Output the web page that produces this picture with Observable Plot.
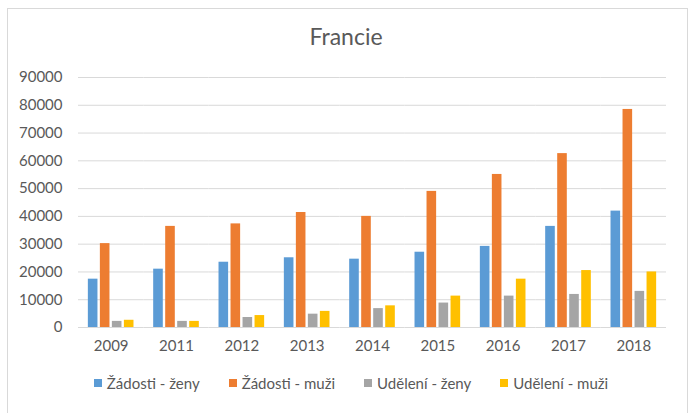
<!DOCTYPE html>
<html><head><meta charset="utf-8">
<script src="https://cdn.jsdelivr.net/npm/d3@7"></script>
<script src="https://cdn.jsdelivr.net/npm/@observablehq/plot@0.6"></script>
<style>
html,body{margin:0;padding:0;background:#fff}
body{width:690px;height:413px;overflow:hidden;position:relative;font-family:Lato,"Open Sans",sans-serif;color:#595959}
#frame{position:absolute;left:7px;top:8px;width:681px;height:430px;border:1px solid #d9d9d9;box-sizing:border-box}
#title{position:absolute;left:0;top:25px;width:692px;text-align:center;font-size:23px;line-height:1;color:#595959}
#chart{position:absolute;left:0;top:55px}
#legend{position:absolute;left:0;top:374px;width:702px;display:flex;justify-content:center;gap:29px;font-size:15px;line-height:18px;color:#595959}
.item{display:flex;align-items:center}
.sw{width:8px;height:8px;margin-right:5px}
</style></head>
<body>
<div id="frame"></div>
<div id="title">Francie</div>
<div id="chart"></div>
<div id="legend"></div>
<script>
const years = ["2009","2011","2012","2013","2014","2015","2016","2017","2018"];
const series = ["Žádosti - ženy","Žádosti - muži","Udělení - ženy","Udělení - muži"];
const colors = ["#5B9BD5","#ED7D31","#A5A5A5","#FFC000"];
const zadostiZeny = [17400,21000,23500,25100,24600,27100,29200,36400,41900];
const zadostiMuzi = [30200,36400,37300,41400,40000,49000,55100,62600,78500];
const udeleniZeny = [2200,2200,3600,4800,6800,8800,11300,11900,13000];
const udeleniMuzi = [2600,2200,4300,5800,7800,11300,17400,20500,20000];
const yTicks = [0,10000,20000,30000,40000,50000,60000,70000,80000,90000];

const seriesValues = [zadostiZeny, zadostiMuzi, udeleniZeny, udeleniMuzi];
const data = [];
years.forEach((y, i) => series.forEach((s, j) => data.push({year: y, series: s, value: seriesValues[j][i]})));

const chart = Plot.plot({
  width: 690, height: 307,
  marginTop: 22, marginBottom: 35, marginLeft: 78, marginRight: 24,
  style: {fontFamily: "Lato, 'Open Sans', sans-serif", color: "#595959", background: "transparent"},
  fx: {domain: years, padding: 0, round: false, label: null},
  x: {domain: series, axis: null, paddingInner: 0.2, paddingOuter: 0.82, round: false},
  y: {domain: [0, 90000], label: null},
  color: {domain: series, range: colors},
  marks: [
    Plot.gridY(yTicks, {stroke: "#d9d9d9", strokeOpacity: 1, strokeWidth: 1}),
    Plot.axisY(yTicks, {tickSize: 0, tickPadding: 16, tickFormat: "d", fontSize: 15, fill: "#595959", label: null}),
    Plot.axisFx({anchor: "bottom", tickSize: 0, tickPadding: 13, fontSize: 15, fill: "#595959", label: null}),
    Plot.barY(data, {fx: "year", x: "series", y: "value", fill: "series"})
  ]
});
document.getElementById("chart").appendChild(chart);

const legend = document.getElementById("legend");
series.forEach((s, i) => {
  const it = document.createElement("div"); it.className = "item";
  const sw = document.createElement("span"); sw.className = "sw"; sw.style.background = colors[i];
  const tx = document.createElement("span"); tx.textContent = s;
  it.appendChild(sw); it.appendChild(tx); legend.appendChild(it);
});
</script>
</body></html>
